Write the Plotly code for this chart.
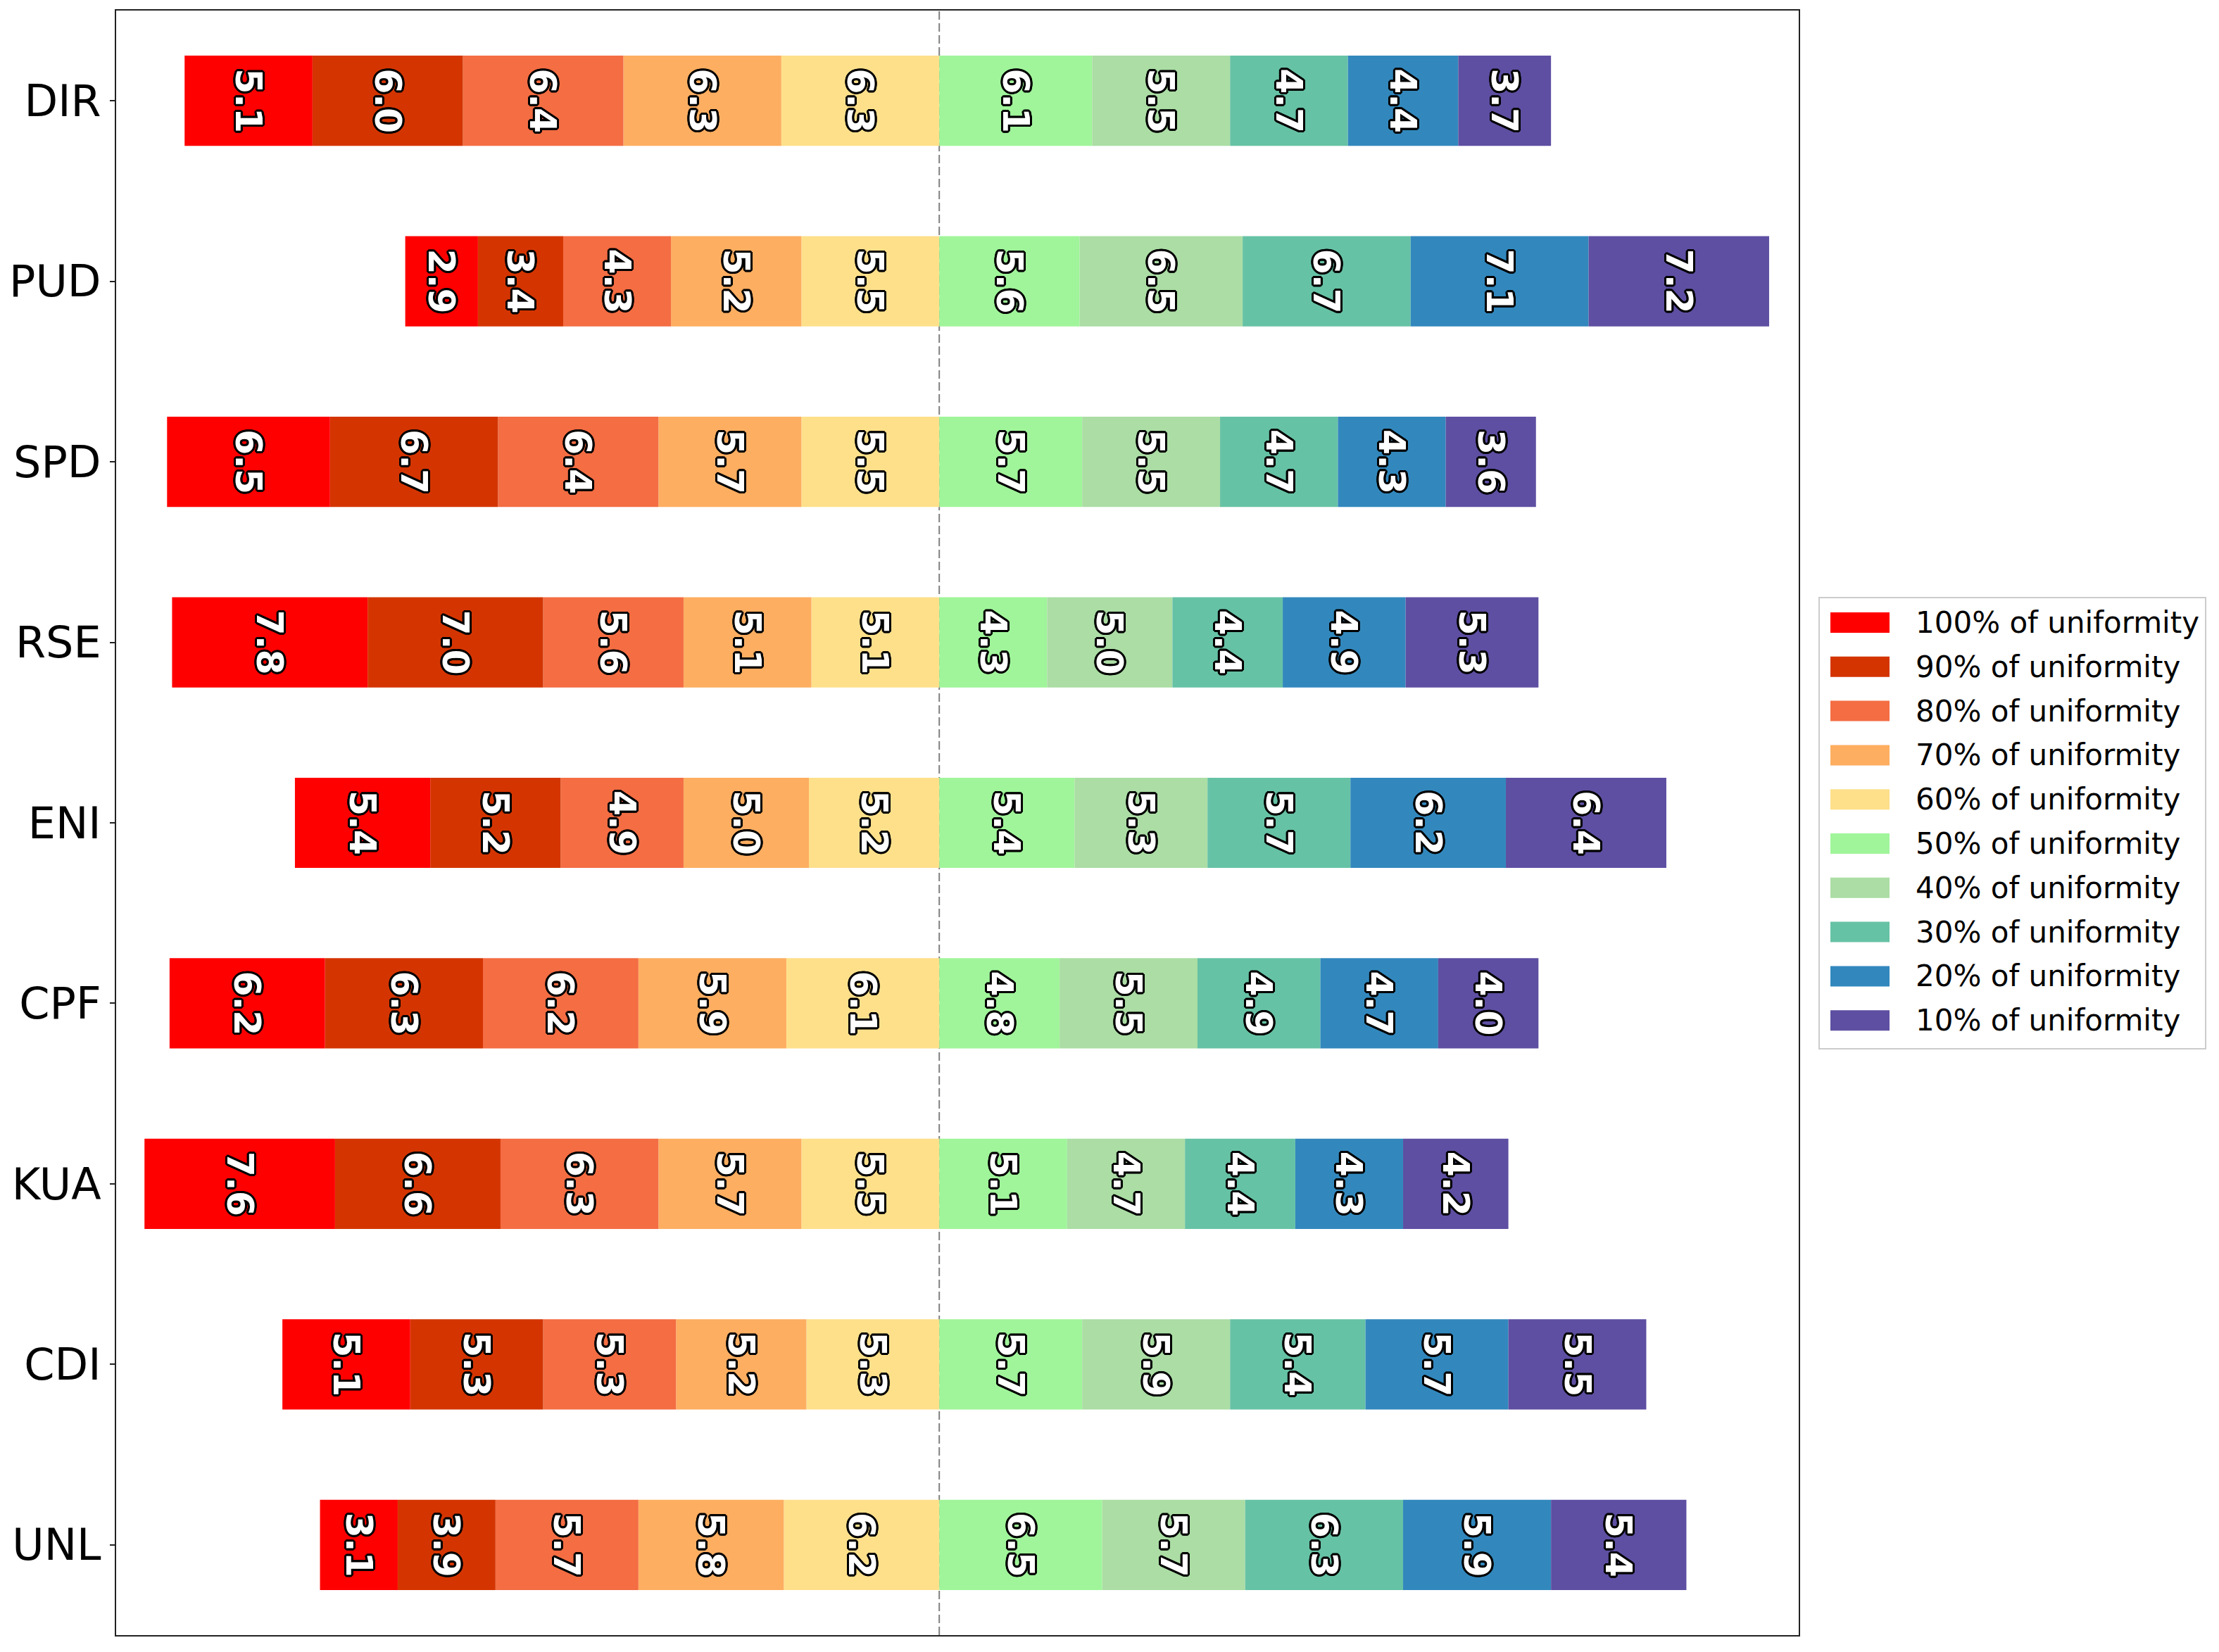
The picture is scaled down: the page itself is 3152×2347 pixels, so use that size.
import plotly.graph_objects as go

categories = ["DIR", "PUD", "SPD", "RSE", "ENI", "CPF", "KUA", "CDI", "UNL"]

# left side (stacked outward from the centre line)
u100 = [5.1, 2.9, 6.5, 7.8, 5.4, 6.2, 7.6, 5.1, 3.1]
u90 = [6.0, 3.4, 6.7, 7.0, 5.2, 6.3, 6.6, 5.3, 3.9]
u80 = [6.4, 4.3, 6.4, 5.6, 4.9, 6.2, 6.3, 5.3, 5.7]
u70 = [6.3, 5.2, 5.7, 5.1, 5.0, 5.9, 5.7, 5.2, 5.8]
u60 = [6.3, 5.5, 5.5, 5.1, 5.2, 6.1, 5.5, 5.3, 6.2]
# right side
u50 = [6.1, 5.6, 5.7, 4.3, 5.4, 4.8, 5.1, 5.7, 6.5]
u40 = [5.5, 6.5, 5.5, 5.0, 5.3, 5.5, 4.7, 5.9, 5.7]
u30 = [4.7, 6.7, 4.7, 4.4, 5.7, 4.9, 4.4, 5.4, 6.3]
u20 = [4.4, 7.1, 4.3, 4.9, 6.2, 4.7, 4.3, 5.7, 5.9]
u10 = [3.7, 7.2, 3.6, 5.3, 6.4, 4.0, 4.2, 5.5, 5.4]

level_names = ["100% of uniformity", "90% of uniformity", "80% of uniformity",
               "70% of uniformity", "60% of uniformity", "50% of uniformity",
               "40% of uniformity", "30% of uniformity", "20% of uniformity",
               "10% of uniformity"]
level_values = [u100, u90, u80, u70, u60, u50, u40, u30, u20, u10]
level_colors = ["#FF0000", "#D43500", "#F46D43", "#FDAE61", "#FEE08B",
                "#A0F59A", "#ABDDA4", "#66C2A5", "#3288BD", "#5E4FA2"]
left_side = [True, True, True, True, True, False, False, False, False, False]

FONT = "DejaVu Sans"
outline = ", ".join(
    f"#000 {dx}px {dy}px 0" for dx, dy in
    [(3, 0), (-3, 0), (0, 3), (0, -3), (2, 2), (-2, -2), (2, -2), (-2, 2),
     (3, 1), (3, -1), (-3, 1), (-3, -1), (1, 3), (-1, 3), (1, -3), (-1, -3)]
)

fig = go.Figure()

# negative stacks build outward in trace order: 60 first, then 70 ... 100
order = [4, 3, 2, 1, 0, 5, 6, 7, 8, 9]
for i in order:
    vals = level_values[i]
    sign = -1 if left_side[i] else 1
    fig.add_trace(go.Bar(
        y=categories,
        x=[sign * v for v in vals],
        orientation="h",
        name=level_names[i],
        marker=dict(color=level_colors[i], line=dict(width=0)),
        text=[f"{v:.1f}" for v in vals],
        textposition="inside",
        insidetextanchor="middle",
        textangle=90,
        constraintext="none",
        textfont=dict(family=FONT, size=52, color="white", weight="bold",
                      shadow=outline),
        showlegend=False,
        hoverinfo="skip",
    ))

fig.add_shape(type="line", xref="x", yref="paper", x0=0, x1=0, y0=0, y1=1,
              line=dict(color="#808080", width=2, dash="12px,5px"),
              layer="below")

# legend drawn as a framed box with colour patches
fig.add_shape(type="rect", xref="paper", yref="paper",
              xsizemode="pixel", ysizemode="pixel", xanchor=1, yanchor=1,
              x0=29, x1=578, y0=-834, y1=-1475,
              line=dict(color="#cccccc", width=2), fillcolor="white",
              layer="above")
for i, (name, col) in enumerate(zip(level_names, level_colors)):
    c = -(869.5 + 62.8 * i)
    fig.add_shape(type="rect", xref="paper", yref="paper",
                  xsizemode="pixel", ysizemode="pixel", xanchor=1, yanchor=1,
                  x0=45, x1=129, y0=c - 14.5, y1=c + 14.5,
                  line=dict(width=0), fillcolor=col, layer="above")
    fig.add_annotation(text=name, xref="paper", yref="paper", x=1, y=1,
                       xshift=164, yshift=c, xanchor="left", yanchor="middle",
                       showarrow=False,
                       font=dict(family=FONT, size=42, color="black"))

fig.update_layout(
    width=3136, height=2331,
    margin=dict(l=149, r=589, t=5, b=16, pad=0),
    paper_bgcolor="white", plot_bgcolor="white",
    barmode="relative", bargap=0.5,
    showlegend=False,
    font=dict(family=FONT, color="black"),
)
fig.update_xaxes(range=[-32.83, 34.28], showticklabels=False, ticks="",
                 showgrid=False, zeroline=False, showline=True, mirror=True,
                 linecolor="#222222", linewidth=2)
fig.update_yaxes(categoryorder="array", categoryarray=categories,
                 range=[8.5, -0.5], showgrid=False, zeroline=False,
                 showline=True, mirror=True, linecolor="#222222", linewidth=2,
                 ticks="outside", ticklen=7, tickwidth=2, tickcolor="#222222",
                 tickfont=dict(family=FONT, size=62, color="black"))

fig.write_html("out.html")
